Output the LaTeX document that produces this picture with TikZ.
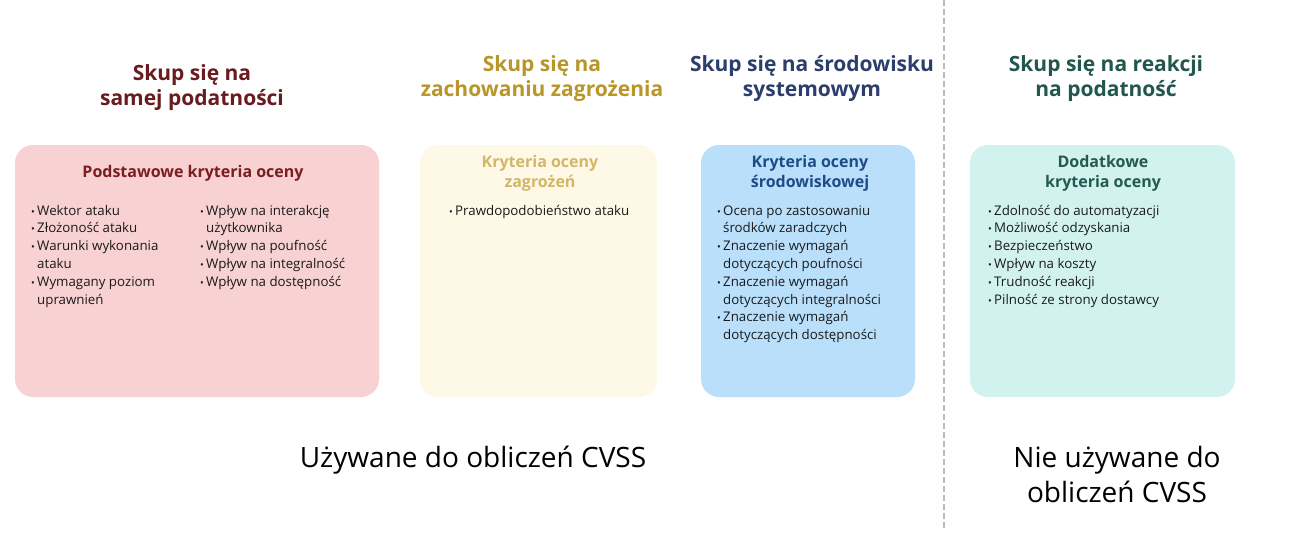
\documentclass[tikz,border=0pt]{standalone}
\usepackage{fontspec}
\setmainfont{Open Sans}
\begin{document}
\begin{tikzpicture}[x=1pt,y=-1pt,
  card/.style={rectangle,rounded corners=18pt,draw=none,inner sep=0pt},
  head/.style={anchor=base,align=center,inner sep=0pt,font=\fontsize{21}{25.5}\selectfont\bfseries},
  ctitle/.style={anchor=base,align=center,inner sep=0pt,font=\fontsize{16}{20}\selectfont\bfseries},
  blist/.style={anchor=base west,align=left,inner sep=0pt,text=bodyc,font=\fontsize{13.3}{17.8}\selectfont},
  foot/.style={anchor=base,align=center,inner sep=0pt,font=\fontsize{28}{35}\selectfont}
]
\definecolor{pinkf}{HTML}{F8D1D2}
\definecolor{creamf}{HTML}{FEF8E6}
\definecolor{bluef}{HTML}{B9DFFB}
\definecolor{tealf}{HTML}{D2F2F0}
\definecolor{hA}{HTML}{6A1B1F}
\definecolor{hB}{HTML}{B8962A}
\definecolor{hC}{HTML}{2C3E6B}
\definecolor{hD}{HTML}{23574D}
\definecolor{tA}{HTML}{7A1E22}
\definecolor{tB}{HTML}{D2B76A}
\definecolor{tC}{HTML}{1F4C86}
\definecolor{tD}{HTML}{245A50}
\definecolor{bodyc}{HTML}{1A1A1A}
\definecolor{dashc}{HTML}{BBBBBB}
\newcommand\bul{\makebox[6pt][l]{\fontsize{10}{10}\selectfont •}}
\newcommand\ind{\hspace*{6pt}}
\useasboundingbox (0,0) rectangle (1298,557);
\fill[white] (0,0) rectangle (1298,557);

% divider
\coordinate (dtop) at (944,0);
\coordinate (dbot) at (944,528);
\draw[dashc,line width=2pt,dash pattern=on 6pt off 3pt] (dtop) -- (dbot);

% cards
\node[card,fill=pinkf,minimum width=364pt,minimum height=252pt] (cA) at (197,271) {};
\node[card,fill=creamf,minimum width=237pt,minimum height=252pt] (cB) at (538.5,271) {};
\node[card,fill=bluef,minimum width=214pt,minimum height=252pt] (cC) at (808,271) {};
\node[card,fill=tealf,minimum width=265pt,minimum height=252pt] (cD) at (1102.5,271) {};

% headings (anchor base = baseline of last line)
\node[head,text=hA] (hAn) at (192,105.5) {Skup się na\\samej podatności};
\node[head,text=hB] (hBn) at (542,96.5) {Skup się na\\zachowaniu zagrożenia};
\node[head,text=hC] (hCn) at (812,96.5) {Skup się na środowisku\\systemowym};
\node[head,text=hD] (hDn) at (1106,96.5) {Skup się na reakcji\\na podatność};

% card titles
\node[ctitle,text=tA] (tAn) at (193,177) {Podstawowe kryteria oceny};
\node[ctitle,text=tB] (tBn) at (540,187) {Kryteria oceny\\zagrożeń};
\node[ctitle,text=tC] (tCn) at (810,187) {Kryteria oceny\\środowiskowej};
\node[ctitle,text=tD] (tDn) at (1103,187) {Dodatkowe\\kryteria oceny};

% lists
\node[blist] (lA1) at (31,304) {\bul Wektor ataku\\\bul Złożoność ataku\\\bul Warunki wykonania\\\ind ataku\\\bul Wymagany poziom\\\ind uprawnień};
\node[blist] (lA2) at (200,286.2) {\bul Wpływ na interakcję\\\ind użytkownika\\\bul Wpływ na poufność\\\bul Wpływ na integralność\\\bul Wpływ na dostępność};
\node[blist] (lB) at (449,215) {\bul Prawdopodobieństwo ataku};
\node[blist] (lC) at (717,339.6) {\bul Ocena po zastosowaniu\\\ind środków zaradczych\\\bul Znaczenie wymagań\\\ind dotyczących poufności\\\bul Znaczenie wymagań\\\ind dotyczących integralności\\\bul Znaczenie wymagań\\\ind dotyczących dostępności};
\node[blist] (lD) at (988,304) {\bul Zdolność do automatyzacji\\\bul Możliwość odzyskania\\\bul Bezpieczeństwo\\\bul Wpływ na koszty\\\bul Trudność reakcji\\\bul Pilność ze strony dostawcy};

% footers
\node[foot] (fA) at (473,467) {Używane do obliczeń CVSS};
\node[foot] (fB) at (1117,502) {Nie używane do\\obliczeń CVSS};
\end{tikzpicture}
\end{document}
